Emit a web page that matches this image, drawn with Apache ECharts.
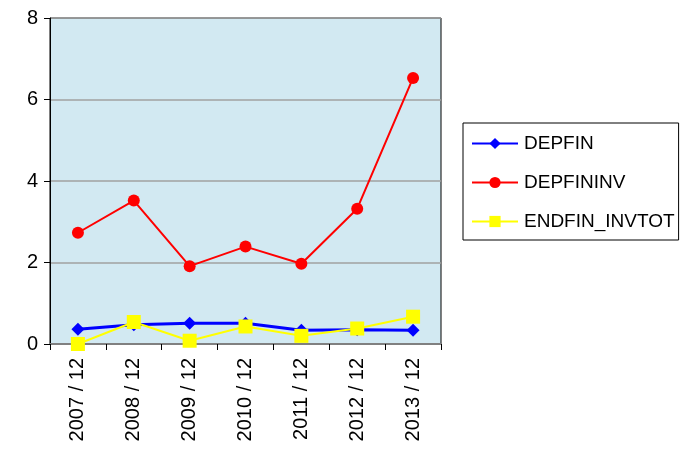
<!DOCTYPE html>
<html>
<head>
<meta charset="utf-8">
<script src="https://cdn.jsdelivr.net/npm/echarts@6/dist/echarts.min.js"></script>
<style>
  html, body { margin: 0; padding: 0; background: #fff; }
  #chart { width: 685px; height: 454px; }
</style>
</head>
<body>
<div id="chart"></div>
<script>
  var categories = ['2007 / 12', '2008 / 12', '2009 / 12', '2010 / 12', '2011 / 12', '2012 / 12', '2013 / 12'];
  var depfin = [0.36, 0.47, 0.51, 0.51, 0.34, 0.35, 0.34];
  var depfininv = [2.73, 3.52, 1.91, 2.39, 1.97, 3.32, 6.53];
  var endfinInvtot = [0.0, 0.54, 0.08, 0.43, 0.2, 0.38, 0.67];
  var yTicks = [0, 2, 4, 6, 8];

  var chart = echarts.init(document.getElementById('chart'));

  var font = 'Arial, "Liberation Sans", sans-serif';

  chart.setOption({
    animation: false,
    textStyle: { fontFamily: font },
    grid: {
      left: 50, top: 18, width: 391, height: 326,
      show: true, backgroundColor: '#d2e9f2', borderColor: '#000', borderWidth: 1
    },
    legend: {
      orient: 'vertical',
      left: 463, top: 123,
      padding: [11, 4, 9, 8],
      itemGap: 20,
      itemWidth: 46,
      itemHeight: 14,
      borderColor: '#000',
      borderWidth: 1,
      textStyle: { fontSize: 19, color: '#000', fontFamily: font, padding: [0, 0, 0, 1] },
      data: ['DEPFIN', 'DEPFININV', 'ENDFIN_INVTOT']
    },
    xAxis: {
      type: 'category',
      data: categories,
      boundaryGap: true,
      axisLine: { lineStyle: { color: '#808080', width: 2 } },
      axisTick: { show: true, length: 6, lineStyle: { color: '#000' } },
      axisLabel: { rotate: 90, fontSize: 20, color: '#000', margin: 14 }
    },
    yAxis: {
      type: 'value',
      min: yTicks[0], max: yTicks[yTicks.length - 1], interval: 2,
      axisLine: { show: true, lineStyle: { color: '#000' } },
      axisTick: { show: true, length: 6, lineStyle: { color: '#000' } },
      splitLine: { lineStyle: { color: '#a0a0a0', width: 1.5 } },
      axisLabel: { fontSize: 20, color: '#000', margin: 12 }
    },
    series: [
      {
        name: 'DEPFIN', type: 'line', data: depfin,
        color: '#0000ff',
        symbol: 'diamond', symbolSize: 13,
        lineStyle: { width: 3, color: '#0000ff' },
        itemStyle: { color: '#0000ff' }
      },
      {
        name: 'DEPFININV', type: 'line', data: depfininv,
        color: '#ff0000',
        symbol: 'circle', symbolSize: 12,
        lineStyle: { width: 2, color: '#ff0000' },
        itemStyle: { color: '#ff0000' }
      },
      {
        name: 'ENDFIN_INVTOT', type: 'line', data: endfinInvtot,
        color: '#ffff00',
        symbol: 'rect', symbolSize: 14,
        lineStyle: { width: 2, color: '#ffff00' },
        itemStyle: { color: '#ffff00' }
      }
    ]
  });
</script>
</body>
</html>
